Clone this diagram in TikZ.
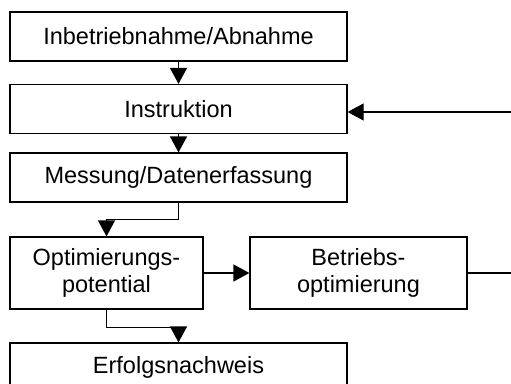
\documentclass[tikz,border=0pt]{standalone}
\usepackage{fontspec}
\setmainfont{Liberation Sans}
\usetikzlibrary{arrows.meta,positioning}

\begin{document}
\begin{tikzpicture}[x=1pt,y=-1pt,>={Triangle[length=16pt,width=17pt]},line width=1.2pt,
     font=\fontsize{23.5}{27}\selectfont,
     stepbox/.style={rectangle,draw,inner sep=0pt,align=center},
     wide/.style={stepbox,minimum width=337pt,minimum height=49pt}]
    \clip (0,0) rectangle (511,383);
    % main chain
    \node[wide] (inbetr) at (178.5,36.5) {Inbetriebnahme/Abnahme};
    \node[wide] (instr) at (178.5,109) {Instruktion};
    \node[wide] (mess) at (178.5,177.5) {Messung/Datenerfassung};
    \node[stepbox,minimum width=193pt,minimum height=72pt] (opt) at (106.5,273) {Optimierungs-\\potential};
    \node[stepbox,minimum width=217pt,minimum height=72pt] (betr) at (358.5,273) {Betriebs-\\optimierung};
    \node[wide] (erfolg) at (178.5,367.5) {Erfolgsnachweis};
    % connectors
    \draw[->] (inbetr) -- (instr);
    \draw[->] (instr) -- (mess);
    \draw[->] (mess.south) -- ++(0,17) -| (opt.north);
    \draw[->] (opt) -- (betr);
    \draw[->] (opt.south) -- ++(0,18) -| (erfolg.north);
    % feedback loop
    \draw[->] (betr.east) -- ++(70,0) |- ([yshift=-3pt]instr.east);
  \end{tikzpicture}
\end{document}
